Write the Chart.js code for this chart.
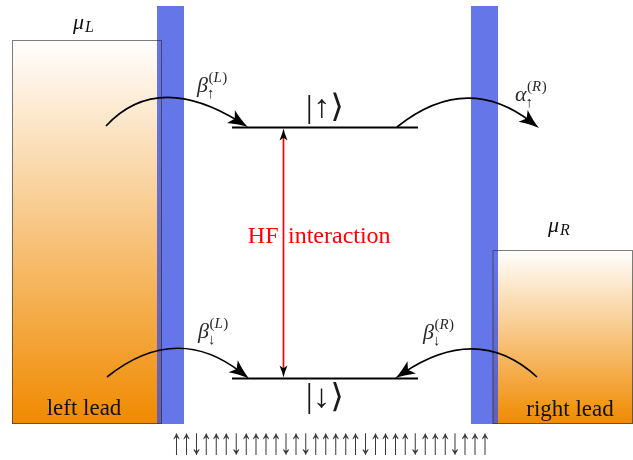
<!DOCTYPE html>
<html><head><meta charset="utf-8">
<script src="https://cdn.jsdelivr.net/npm/chart.js@4/dist/chart.umd.min.js"></script>
<style>html,body{margin:0;padding:0;background:#fff}canvas{display:block}</style>
</head><body>
<canvas id="c" width="633" height="460"></canvas>
<script>
// ---- data (diagram coordinates, x: 0..633, y: 0..460 downwards) ----
const leadNames   = ['left lead', 'right lead'];
const leadMu      = ['L', 'R'];
const leadLeft    = [12, 492.5];
const leadRight   = [162, 633];
const leadTop     = [40, 250];
const leadBottom  = [424, 424];

const barrierLeft   = [157, 471];
const barrierRight  = [184, 498];
const barrierTop    = [6, 6];
const barrierBottom = [424, 424];

const levelSpin = ['↑', '↓'];
const levelY    = [127.5, 378.5];
const levelX0   = [232, 232];
const levelX1   = [418, 418];

const hfX = 283.5;
const hfLabel = ['HF', 'interaction'];

// curved hopping arrows (quadratic): start, control, end
const hopSymbol = ['β', 'α', 'β', 'β'];
const hopSub    = ['↑', '↑', '↓', '↓'];
const hopSup    = ['L', 'R', 'L', 'R'];
const hopStartX = [106, 397, 107, 537];
const hopStartY = [126, 127, 377, 377];
const hopCtrlX  = [157, 466, 176, 478];
const hopCtrlY  = [71, 72, 322, 323];
const hopEndX   = [248, 539, 249, 395];
const hopEndY   = [127, 128, 378.5, 378.5];
const hopLabelX = [197, 515, 198, 423];
const hopLabelY = [92, 101, 338, 339];

// nuclear spin bath
const spins = [1,1,-1,1,1,1,-1,1,1,1,1,-1,1,-1,1,1,1,1,1,-1,1,1,1,1,-1,1,1,1,-1,1,1,1];

// ---- drawing helpers ----
const SERIF = '"Liberation Serif", "DejaVu Serif", serif';
const KETFONT = '"Liberation Serif", "DejaVu Sans ExtraLight", "DejaVu Sans", serif';
function fitGlyph(ctx, txt, font, cx, yTop, yBot, inkW) {
  ctx.save();
  ctx.font = font; ctx.textAlign = 'left'; ctx.textBaseline = 'alphabetic';
  const m = ctx.measureText(txt);
  const asc = m.actualBoundingBoxAscent, desc = m.actualBoundingBoxDescent;
  const l = m.actualBoundingBoxLeft, r = m.actualBoundingBoxRight;
  const sy = (yBot - yTop) / (asc + desc);
  const sx = inkW ? inkW / (l + r) : sy;
  ctx.translate(cx - sx * (r - l) / 2, yTop + asc * sy);
  ctx.scale(sx, sy);
  ctx.fillText(txt, 0, 0);
  ctx.restore();
}
function arrowHead(ctx, tx, ty, ang, len, wid) {
  ctx.save();
  ctx.translate(tx, ty); ctx.rotate(ang);
  ctx.beginPath();
  ctx.moveTo(0, 0);
  ctx.quadraticCurveTo(-len * 0.45, -wid * 0.14, -len, -wid / 2);
  ctx.lineTo(-len * 0.78, 0);
  ctx.lineTo(-len, wid / 2);
  ctx.quadraticCurveTo(-len * 0.45, wid * 0.14, 0, 0);
  ctx.closePath();
  ctx.fill();
  ctx.restore();
}

const diagram = {
  id: 'diagram',
  beforeDatasetsDraw(chart) {
    const ctx = chart.ctx, X = v => chart.scales.x.getPixelForValue(v), Y = v => chart.scales.y.getPixelForValue(v);
    ctx.save();
    for (let i = 0; i < leadNames.length; i++) {
      const x0 = X(leadLeft[i]), x1 = X(leadRight[i]), y0 = Y(leadTop[i]), y1 = Y(leadBottom[i]);
      const g = ctx.createLinearGradient(0, y0, 0, y1);
      g.addColorStop(0, '#ffffff');
      g.addColorStop(1, '#f08a00');
      ctx.fillStyle = g;
      ctx.fillRect(x0, y0, x1 - x0, y1 - y0);
    }
    ctx.fillStyle = 'rgba(62,84,226,0.8)';
    for (let i = 0; i < barrierLeft.length; i++) {
      const x0 = X(barrierLeft[i]), x1 = X(barrierRight[i]), y0 = Y(barrierTop[i]), y1 = Y(barrierBottom[i]);
      ctx.fillRect(x0, y0, x1 - x0, y1 - y0);
    }
    ctx.strokeStyle = 'rgba(40,40,40,0.6)';
    ctx.lineWidth = 1;
    for (let i = 0; i < leadNames.length; i++) {
      const x0 = X(leadLeft[i]), x1 = X(leadRight[i]), y0 = Y(leadTop[i]), y1 = Y(leadBottom[i]);
      ctx.strokeRect(x0 + 0.5, y0 + 0.5, x1 - x0 - 1, y1 - y0 - 1);
    }
    ctx.restore();
  },
  afterDatasetsDraw(chart) {
    const ctx = chart.ctx, X = v => chart.scales.x.getPixelForValue(v), Y = v => chart.scales.y.getPixelForValue(v);
    ctx.save();
    // HF arrow heads
    ctx.fillStyle = '#000';
    arrowHead(ctx, X(hfX), Y(levelY[0]) + 1, -Math.PI / 2, 12, 8);
    arrowHead(ctx, X(hfX), Y(levelY[1]) - 1, Math.PI / 2, 12, 8);
    // hopping curves
    ctx.strokeStyle = '#000'; ctx.lineWidth = 1.6;
    for (let i = 0; i < hopSymbol.length; i++) {
      const sx = X(hopStartX[i]), sy = Y(hopStartY[i]), cx = X(hopCtrlX[i]), cy = Y(hopCtrlY[i]);
      const ex = X(hopEndX[i]), ey = Y(hopEndY[i]);
      const ang = Math.atan2(ey - cy, ex - cx);
      ctx.beginPath();
      ctx.moveTo(sx, sy);
      ctx.quadraticCurveTo(cx, cy, ex - 10 * Math.cos(ang), ey - 10 * Math.sin(ang));
      ctx.stroke();
      arrowHead(ctx, ex, ey, ang, 20, 15);
      // label
      const lx = X(hopLabelX[i]), ly = Y(hopLabelY[i]);
      ctx.fillStyle = '#2a2a2a';
      ctx.textAlign = 'left'; ctx.textBaseline = 'alphabetic';
      ctx.font = 'italic 22px ' + SERIF;
      ctx.fillText(hopSymbol[i], lx, ly);
      const w = ctx.measureText(hopSymbol[i]).width;
      ctx.font = '15px ' + SERIF;
      ctx.fillText(hopSub[i], lx + w - 1, ly + 6);
      let px = lx + w + 0.5, py = ly - 10;
      ctx.fillText('(', px, py); px += ctx.measureText('(').width;
      ctx.font = 'italic 15px ' + SERIF;
      ctx.fillText(hopSup[i], px, py); px += ctx.measureText(hopSup[i]).width + 0.5;
      ctx.font = '15px ' + SERIF;
      ctx.fillText(')', px, py);
      ctx.fillStyle = '#000';
    }
    // kets
    ctx.fillStyle = '#1a1a1a';
    fitGlyph(ctx, '|' + levelSpin[0] + '⟩', '30px ' + KETFONT, X(325), Y(92), Y(123), 34);
    fitGlyph(ctx, '|' + levelSpin[1] + '⟩', '30px ' + KETFONT, X(325), Y(382), Y(414), 34);
    // HF label
    ctx.fillStyle = '#ff0000';
    ctx.font = '24px ' + SERIF; ctx.textBaseline = 'alphabetic';
    ctx.textAlign = 'right'; ctx.fillText(hfLabel[0], X(hfX) - 5, Y(243));
    ctx.textAlign = 'left'; ctx.fillText(hfLabel[1], X(hfX) + 4.5, Y(243));
    // lead labels and chemical potentials
    ctx.fillStyle = '#111';
    ctx.font = '23px ' + SERIF; ctx.textAlign = 'center';
    ctx.fillText(leadNames[0], X(84), Y(415));
    ctx.fillText(leadNames[1], X(570), Y(416));
    const muPos = [[73, 29], [548, 232]];
    for (let i = 0; i < 2; i++) {
      ctx.textAlign = 'left';
      ctx.font = 'italic 22px ' + SERIF;
      ctx.fillText('μ', X(muPos[i][0]), Y(muPos[i][1]));
      const w = ctx.measureText('μ').width;
      ctx.font = 'italic 16px ' + SERIF;
      ctx.fillText(leadMu[i], X(muPos[i][0]) + w + 1, Y(muPos[i][1] + 3));
    }
    // spin bath
    ctx.fillStyle = '#3a3a3a';
    for (let i = 0; i < spins.length; i++) {
      fitGlyph(ctx, spins[i] > 0 ? '↑' : '↓', '24px ' + SERIF, X(176 + i * 9.95), Y(433), Y(456), 7);
    }
    ctx.restore();
  }
};

new Chart(document.getElementById('c'), {
  type: 'scatter',
  data: {
    datasets: [
      { label: levelSpin[0], data: [{x: levelX0[0], y: levelY[0]}, {x: levelX1[0], y: levelY[0]}], showLine: true, borderColor: '#000', borderWidth: 2, pointRadius: 0 },
      { label: levelSpin[1], data: [{x: levelX0[1], y: levelY[1]}, {x: levelX1[1], y: levelY[1]}], showLine: true, borderColor: '#000', borderWidth: 2, pointRadius: 0 },
      { label: 'HF', data: [{x: hfX, y: levelY[0] + 8}, {x: hfX, y: levelY[1] - 8}], showLine: true, borderColor: '#ff0000', borderWidth: 1.7, pointRadius: 0 }
    ]
  },
  options: {
    responsive: false, animation: false, events: [],
    layout: { padding: 0 },
    plugins: { legend: { display: false }, tooltip: { enabled: false } },
    scales: {
      x: { type: 'linear', min: 0, max: 633, display: false },
      y: { type: 'linear', min: 0, max: 460, reverse: true, display: false }
    }
  },
  plugins: [diagram]
});
</script>
</body></html>
